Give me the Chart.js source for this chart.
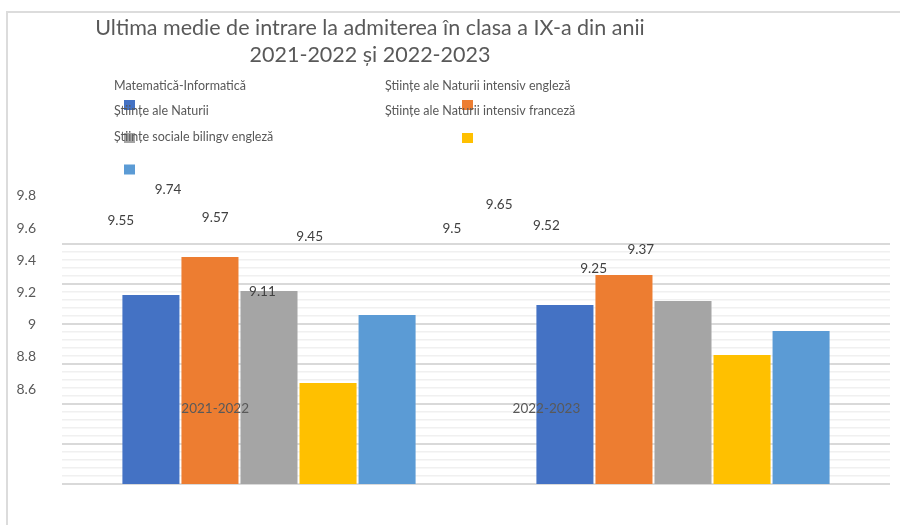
<!DOCTYPE html>
<html><head><meta charset="utf-8">
<script src="https://cdn.jsdelivr.net/npm/chart.js@4.4.1/dist/chart.umd.min.js"></script>
<style>
html,body{margin:0;padding:0;background:#fff;}
#wrap{position:relative;width:900px;height:525px;overflow:hidden;}
#frame{position:absolute;left:6px;top:11px;width:1000px;height:1000px;border-left:2px solid #dcdcdc;border-top:2px solid #dcdcdc;}
canvas{position:absolute;left:0;top:0;}
</style></head><body>
<div id="wrap"><div id="frame"></div><canvas id="c" width="900" height="525"></canvas></div>
<script>
// ---- data ----
const categories = ['2021-2022', '2022-2023'];
const seriesNames = [
  'Matematică-Informatică',
  'Științe ale Naturii intensiv engleză',
  'Științe ale Naturii',
  'Științe ale Naturii intensiv franceză',
  'Științe sociale bilingv engleză'
];
const matematicaInformatica = [9.55, 9.5];
const naturiiIntensivEngleza = [9.74, 9.65];
const stiinteleNaturii = [9.57, 9.52];
const naturiiIntensivFranceza = [9.11, 9.25];
const socialeBilingvEngleza = [9.45, 9.37];
const yTickLabels = [9.8, 9.6, 9.4, 9.2, 9, 8.8, 8.6];
const titleLines = ['Ultima medie de intrare la admiterea în clasa a IX-a din anii', '2021-2022 și 2022-2023'];

const seriesValues = [matematicaInformatica, naturiiIntensivEngleza, stiinteleNaturii, naturiiIntensivFranceza, socialeBilingvEngleza];
const colors = ['#4472C4', '#ED7D31', '#A5A5A5', '#FFC000', '#5B9BD5'];
const FONT = 'Lato, "Open Sans", sans-serif';

// gridline values (major every 0.2, minor every 0.04) from 8.6 to 9.8
const gridValues = [];
for (let i = 0; i <= 30; i++) gridValues.push(+(8.6 + i * 0.04).toFixed(2));

const overlay = {
  id: 'overlay',
  afterDatasetsDraw(chart) {
    const {ctx, chartArea: ca, scales} = chart;
    const xs = scales.x, yl = scales.yl;
    const shiftX = px => ca.left + (px - ca.left) * 0.8 - 12.4;
    ctx.save();
    ctx.textAlign = 'center';
    ctx.textBaseline = 'middle';
    // data labels
    ctx.font = '13.5px ' + FONT;
    ctx.fillStyle = '#404040';
    chart.data.datasets.forEach((ds, di) => {
      const meta = chart.getDatasetMeta(di);
      meta.data.forEach((bar, i) => {
        ctx.fillText(String(ds.data[i]), shiftX(bar.x), yl.getPixelForValue(ds.data[i]) - 15.5);
      });
    });
    // category labels
    ctx.font = '13.5px ' + FONT;
    ctx.fillStyle = '#595959';
    categories.forEach((c, i) => {
      ctx.fillText(c, shiftX(xs.getPixelForValue(i)), yl.getPixelForValue(8.6) + 20);
    });
    // title
    ctx.font = '21.5px ' + FONT;
    ctx.fillStyle = '#595959';
    titleLines.forEach((t, i) => ctx.fillText(t, 370, 28 + i * 27));
    // legend
    ctx.textAlign = 'left';
    ctx.font = '12.5px ' + FONT;
    const textCols = [114, 385], textRows = [85.5, 111, 137];
    const boxCols = [124, 462], boxRows = [100, 133, 164.5];
    chart.data.datasets.forEach((ds, i) => {
      const col = i % 2, row = Math.floor(i / 2);
      ctx.fillStyle = '#595959';
      ctx.fillText(ds.label, textCols[col], textRows[row]);
      ctx.fillStyle = ds.backgroundColor;
      ctx.fillRect(boxCols[col], boxRows[row], 11, 10);
    });
    ctx.restore();
  }
};

new Chart(document.getElementById('c'), {
  type: 'bar',
  data: {
    labels: categories,
    datasets: seriesNames.map((name, i) => ({
      label: name,
      data: seriesValues[i],
      backgroundColor: colors[i],
      borderColor: 'rgba(255,255,255,0.3)',
      borderWidth: 1,
      categoryPercentage: 0.713,
      barPercentage: 1
    }))
  },
  options: {
    responsive: false,
    animation: false,
    devicePixelRatio: 1,
    layout: {padding: {top: 185, bottom: 41, left: 0, right: 10}},
    plugins: {legend: {display: false}, title: {display: false}, tooltip: {enabled: false}},
    scales: {
      x: {display: false, offset: true},
      y: {
        position: 'right',
        min: 8.6,
        max: 8.6 + 299 / 200,
        border: {display: false},
        ticks: {display: false},
        grid: {
          drawTicks: false,
          color: c => (c.index % 5 === 0 ? '#d9d9d9' : '#f0f0f0'),
          lineWidth: c => (c.index % 5 === 0 ? 2 : 1.5)
        },
        afterBuildTicks: s => { s.ticks = gridValues.map(v => ({value: v})); },
        afterFit: s => { s.width = 0; }
      },
      yl: {
        position: 'left',
        min: 8.01,
        max: 8.01 + 299 / 161,
        border: {display: false},
        grid: {display: false, drawTicks: false},
        ticks: {padding: 26, color: '#595959', font: {family: FONT, size: 14}, callback: v => String(v)},
        afterBuildTicks: s => { s.ticks = yTickLabels.map(v => ({value: v})); },
        afterFit: s => { s.width = 62; }
      }
    }
  },
  plugins: [overlay]
});
</script>
</body></html>
